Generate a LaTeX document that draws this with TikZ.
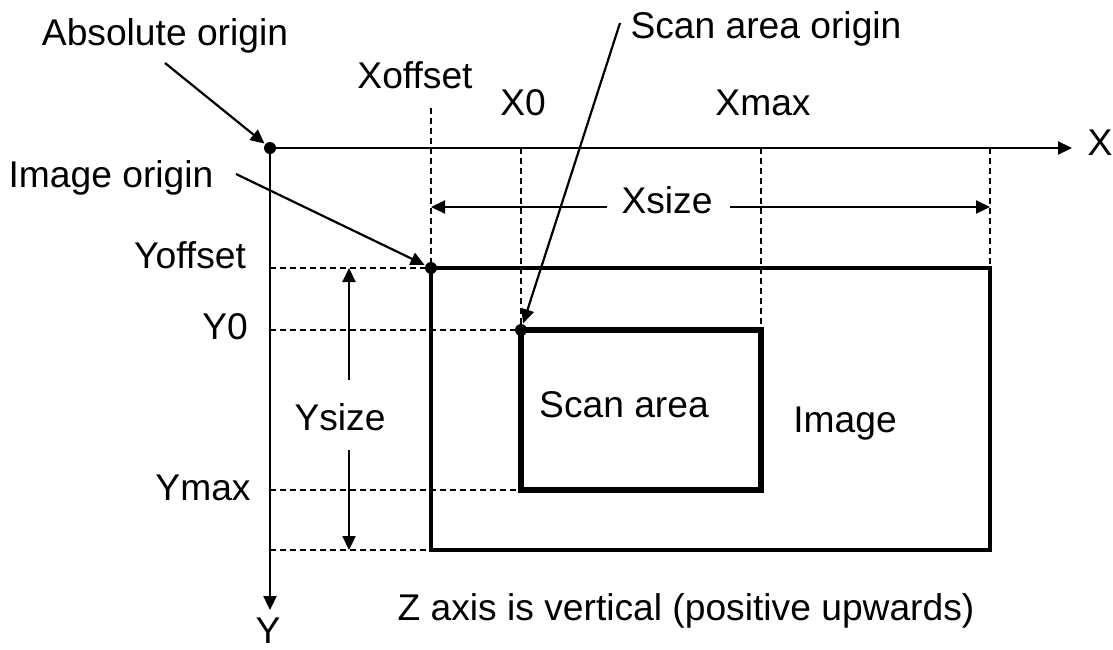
\documentclass[tikz,border=0pt]{standalone}
\usepackage{fontspec}
\setmainfont{Liberation Sans}
\usetikzlibrary{arrows.meta}
\usetikzlibrary{positioning}
\tikzstyle{lbl}=[inner sep=0mm,anchor=base,font=\fontsize{18.6}{21}\selectfont]
\tikzstyle{origin}=[circle,fill=black,inner sep=0mm,minimum size=6pt]
\tikzstyle{guide}=[dash pattern=on 3pt off 2pt]
\tikzstyle{imgframe}=[line width=1.8pt]
\tikzstyle{scanframe}=[line width=2.8pt]
\tikzset{every picture/.style={
    line width=1.1pt,
    >={Triangle[length=7pt,width=6.5pt]}
  }
}

\begin{document}
\begin{tikzpicture}[x=0.5pt,y=-0.5pt]
        \useasboundingbox (0,0) rectangle (1113,649);
        \node[origin] at (270,148) (abs) {};
        \node[origin] at (431,268) (img) {};
        \node[origin] at (521,330) (scan) {};
        \coordinate (imgend) at (990,550);
        \coordinate (scanend) at (761,490);
        \coordinate (xtip) at (1072,148);
        \coordinate (ytip) at (270,610);
        \coordinate (xofftop) at (431,108);
        \coordinate (xsizemid) at (667,207);
        \coordinate (ysizemid) at (349,415);
        \coordinate (absfrom) at (165,63);
        \coordinate (imgfrom) at (236,174);
        \coordinate (scanfrom) at (620,23);
        \node[lbl] at (165,45) (abslbl) {Absolute origin};
        \node[lbl] at (111,187) (imglbl) {Image origin};
        \node[lbl] at (766,38) (scanlbl) {Scan area origin};
        \node[lbl] at (415,88) (xofflbl) {Xoffset};
        \node[lbl] at (523,115) (x0lbl) {X0};
        \node[lbl] at (763,115) (xmaxlbl) {Xmax};
        \node[lbl] at (1100,155) (xlbl) {X};
        \node[lbl] at (268,643) (ylbl) {Y};
        \node[lbl] at (190,268) (yofflbl) {Yoffset};
        \node[lbl] at (225,339) (y0lbl) {Y0};
        \node[lbl] at (203,500) (ymaxlbl) {Ymax};
        \node[lbl] at (667,213) (xsizelbl) {Xsize};
        \node[lbl] at (340,430) (ysizelbl) {Ysize};
        \node[lbl] at (624,417) (scanarealbl) {Scan area};
        \node[lbl] at (845,432) (imagelbl) {Image};
        \node[lbl] at (686,620) (notelbl) {Z axis is vertical (positive upwards)};
        \draw[guide] (xofftop) -- (img.center);
        \draw[guide] (abs.center -| scan.center) -- (scan.center);
        \draw[guide] (abs.center -| scanend) -- (scanend |- scan.center);
        \draw[guide] (abs.center -| imgend) -- (imgend |- img.center);
        \draw[guide] (abs.center |- img.center) -- (img.center);
        \draw[guide] (abs.center |- scan.center) -- (scan.center);
        \draw[guide] (abs.center |- scanend) -- (scan.center |- scanend);
        \draw[guide] (abs.center |- imgend) -- (img.center |- imgend);
        \draw[imgframe] (img.center) rectangle (imgend);
        \draw[scanframe] (scan.center) rectangle (scanend);
        \draw[->] (abs.center) to (xtip);
        \draw[->] (abs.center) to (ytip);
        \draw[->] ([xshift=-30pt]xsizemid) to (img.center |- xsizemid);
        \draw[->] ([xshift=31.5pt]xsizemid) to (imgend |- xsizemid);
        \draw[->] ([yshift=17.5pt]ysizemid) to (ysizemid |- img.center);
        \draw[->] ([yshift=-17.5pt]ysizemid) to (ysizemid |- imgend);
        \draw[->] (absfrom) to (abs);
        \draw[->] (imgfrom) to (img);
        \draw[->] (scanfrom) to (scan);
      \end{tikzpicture}
\end{document}
